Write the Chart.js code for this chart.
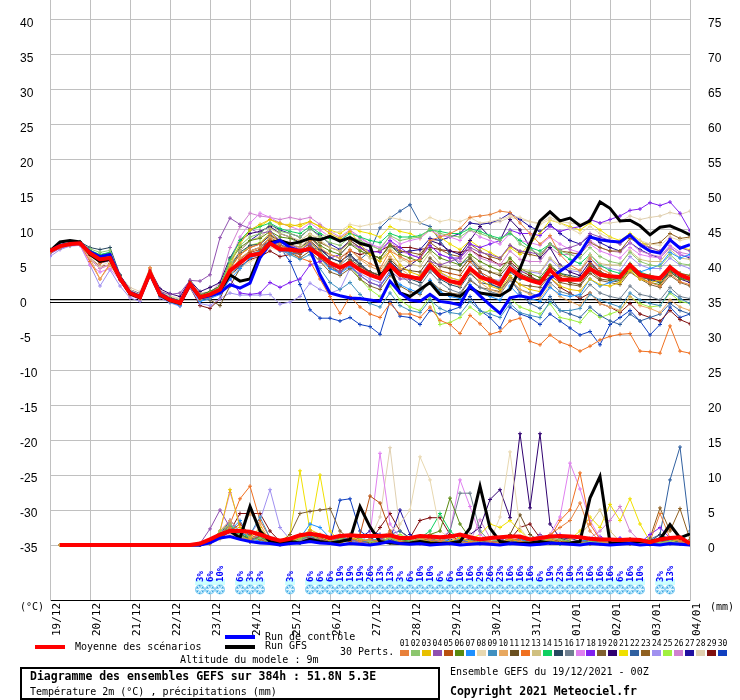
<!DOCTYPE html>
<html>
<head>
<meta charset="utf-8">
<script src="https://cdn.jsdelivr.net/npm/chart.js"></script>
<style>
  body { margin: 0; background: #fff; }
  #wrap { position: relative; width: 740px; height: 700px; font-family: "DejaVu Sans Mono", monospace; font-size: 10px; color: #000; overflow: hidden; }
  #wrap canvas { position: absolute; left: 0; top: 0; }
  .t { position: absolute; white-space: nowrap; line-height: 1; }
  .b { font-weight: bold; font-size: 11.5px; }
  .bar { position: absolute; width: 30px; height: 4px; }
  .num { position: absolute; top: 640px; font-size: 8px; line-height: 1; width: 11px; text-align: center; }
  .sw { position: absolute; top: 650px; width: 9px; height: 6px; }
  #box { position: absolute; left: 20px; top: 667px; width: 420px; height: 33px; border: 2px solid #000; box-sizing: border-box; }
</style>
</head>
<body>
<div id="wrap">
  <canvas id="gefs" width="740" height="700"></canvas>
  <div class="t" style="left:20px;top:602px;">(°C)</div>
  <div class="t" style="left:710px;top:602px;">(mm)</div>
  <div class="bar" style="left:35px;top:645px;background:#ff0000;"></div>
  <div class="t" style="left:75px;top:642px;">Moyenne des scénarios</div>
  <div class="bar" style="left:225px;top:635px;background:#0000ff;"></div>
  <div class="t" style="left:265px;top:632px;">Run de contrôle</div>
  <div class="bar" style="left:225px;top:645px;background:#000;"></div>
  <div class="t" style="left:265px;top:641px;">Run GFS</div>
  <div class="t" style="left:340px;top:647px;">30 Perts.</div>
  <div class="t" style="left:180px;top:655px;">Altitude du modele : 9m</div>
  <div id="strip"></div>
  <div id="box"></div>
  <div class="t b" style="left:30px;top:671px;">Diagramme des ensembles GEFS sur 384h : 51.8N 5.3E</div>
  <div class="t" style="left:30px;top:687px;">Température 2m (°C) , précipitations (mm)</div>
  <div class="t" style="left:450px;top:667px;">Ensemble GEFS du 19/12/2021 - 00Z</div>
  <div class="t b" style="left:450px;top:686px;">Copyright 2021 Meteociel.fr</div>
</div>
<script>
const dateLabels = ['19/12','20/12','21/12','22/12','23/12','24/12','25/12','26/12','27/12','28/12','29/12','30/12','31/12','01/01','02/01','03/01','04/01'];
const dayTicks = [0,24,48,72,96,120,144,168,192,216,240,264,288,312,336,360,384];
const tempTicks = [-35,-30,-25,-20,-15,-10,-5,0,5,10,15,20,25,30,35,40];
const precipTicks = [0,5,10,15,20,25,30,35,40,45,50,55,60,65,70,75];

const memberColors = ['#e8803a','#8cc66e','#e8c000','#9050b0','#b85010','#5a8a10','#1e90ff','#e8d8b0','#4090c0','#e8a860',
  '#6b5020','#f07020','#d0c080','#10d060','#284860','#708090','#e080f0','#8020f0','#806030','#300070',
  '#f0e000','#3060a0','#906020','#a090f0','#a0f040','#d080d0','#2010a0','#e0d0b0','#801010','#1040c0'];

// 6-hourly steps, 0h .. 384h
const hours = Array.from({ length: 65 }, (_, i) => i * 6);

// 2m temperature (°C)
const tempMean = [7.0,7.7,8.0,8.1, 6.7,5.8,6.0,3.1, 1.0,0.4,3.9,0.8, 0.0,-0.4,2.3,0.4, 0.8,1.5,4.2,5.3, 6.4,6.6,8.1,7.2, 7.2,7.0,7.3,6.4, 5.3,4.6,5.3,4.3, 3.6,3.1,5.0,3.6, 3.3,3.0,4.9,3.4, 2.7,2.4,4.5,3.3, 2.8,2.2,4.5,3.4, 2.8,2.4,4.3,2.9, 2.9,2.9,4.5,3.6, 3.4,3.3,5.0,3.6, 3.3,3.1,4.7,3.6, 3.0];
const tempCtrl = [7.0,7.8,8.0,8.1, 6.9,6.2,6.5,3.2, 1.1,0.5,3.9,0.9, 0.1,-0.3,2.4,0.3, 0.6,1.0,2.2,1.7, 2.4,6.0,8.0,8.5, 7.5,7.0,7.2,3.6, 1.0,0.6,0.3,0.2, 0.0,-0.2,2.7,1.0, 0.0,-0.2,0.8,-0.2, -0.4,-0.7,2.0,0.6, -0.7,-1.9,0.3,0.6, 0.3,0.8,3.1,4.1, 5.1,6.7,9.0,8.6, 8.4,8.3,9.3,7.9, 7.0,6.7,8.6,7.4, 7.9];
const tempGfs = [7.0,8.3,8.5,8.3, 6.5,5.5,5.8,3.0, 0.9,0.3,3.8,0.7, -0.1,-0.5,2.2,0.3, 0.7,1.3,3.6,2.7, 3.0,6.5,8.2,8.5, 8.0,8.3,8.8,8.6, 9.1,8.4,8.9,8.1, 7.7,3.6,4.5,1.0, 0.5,1.5,2.5,0.8, 0.8,0.5,1.7,1.0, 0.8,0.6,1.5,4.5, 8.0,11.3,12.6,11.3, 11.7,10.6,11.3,14.0, 13.1,11.3,11.4,10.6, 9.3,10.4,10.6,10.0, 9.3];
const tempPerts = [
  [6.9,7.6,7.9,8.0, 6.5,5.2,5.8,3.0, 0.8,0.2,4.2,0.6, -0.2,-0.6,2.4,0.1, 0.4,1.0,4.5,6.5, 7.5,8.0,9.5,8.2, 7.8,7.0,8.5,6.8, 5.5,5.0,7.2,6.0, 5.2,4.5,7.0,6.2, 5.5,5.8,8.5,9.0, 9.5,10.2,11.8,12.0, 12.2,12.7,12.5,11.0, 9.5,8.0,9.2,6.5, 5.0,4.2,6.0,4.5, 3.8,3.0,4.8,3.2, 2.5,2.0,3.8,2.6, 2.2],
  [7.1,7.8,8.0,8.2, 7.3,6.8,7.1,3.4, 1.2,0.6,4.0,1.0, 0.2,-0.2,2.5,0.6, 1.0,1.8,5.5,7.8, 9.0,9.5,10.8,9.8, 9.5,9.0,10.2,9.0, 8.2,7.8,9.0,8.5, 7.8,7.2,9.2,8.5, 8.8,9.0,10.2,9.5, 9.2,9.0,10.0,9.5, 9.0,8.5,9.8,8.0, 7.2,6.5,8.0,7.0, 6.5,6.0,7.5,6.2, 5.5,5.2,6.8,5.5, 5.0,4.8,6.5,5.2, 5.0],
  [6.8,7.5,7.9,8.0, 6.8,6.0,6.2,3.3, 1.0,0.3,4.0,0.8, 0.0,-0.4,2.3,0.2, 0.8,1.6,5.0,8.0, 10.0,10.8,11.5,11.0, 10.5,10.8,11.2,10.5, 9.5,8.8,9.8,8.0, 6.5,5.5,7.0,5.0, 4.0,3.5,5.2,4.0, 3.2,2.8,4.5,3.0, 2.0,1.5,3.5,2.2, 1.5,1.2,3.2,2.0, 1.5,1.3,3.0,2.2, 2.0,2.5,4.2,3.0, 2.5,2.8,4.5,3.5, 3.2],
  [6.6,7.4,7.8,7.9, 6.6,5.5,5.9,2.9, 0.9,0.4,3.7,1.2, 0.8,1.0,2.8,2.7, 3.6,8.9,11.7,10.8, 10.2,9.5,9.8,8.5, 8.0,7.2,8.0,6.5, 5.0,4.0,5.0,3.5, 2.5,2.0,4.2,3.0, 3.0,3.5,5.5,5.0, 5.5,6.0,7.5,6.8, 6.5,6.0,7.8,7.0, 6.8,6.5,8.0,7.2, 7.5,8.0,9.5,9.0, 8.5,8.0,9.2,8.0, 7.5,7.0,8.8,7.5, 7.0],
  [7.0,7.7,8.0,8.1, 6.4,5.4,5.7,3.0, 1.0,0.5,3.9,0.7, -0.1,-0.5,2.2,0.3, 0.5,1.2,3.8,5.5, 6.8,7.2,8.5,7.5, 7.0,6.5,7.8,6.0, 4.8,4.0,5.5,4.2, 3.5,3.0,5.0,3.8, 3.5,3.2,5.5,4.2, 3.8,3.5,5.5,4.0, 3.2,2.5,4.5,3.5, 3.0,2.5,4.8,3.5, 3.2,3.0,5.2,4.0, 3.5,3.2,5.0,3.8, 3.5,3.2,4.8,3.8, 3.5],
  [7.2,7.9,8.1,8.2, 7.0,6.3,6.6,3.3, 1.1,0.6,4.1,1.0, 0.3,-0.1,2.6,0.7, 1.2,2.0,5.5,7.5, 8.5,8.8,9.8,9.0, 8.8,8.2,9.0,7.8, 7.0,6.5,8.0,7.0, 6.5,6.0,7.8,6.5, 6.0,5.5,7.2,6.0, 5.5,5.0,6.5,5.5, 4.8,4.2,6.0,4.5, 3.8,3.2,5.0,3.8, 3.2,3.0,4.8,3.5, 3.0,2.8,4.5,3.2, 2.5,2.2,4.0,3.0, 2.8],
  [6.9,7.6,7.9,8.0, 6.8,6.1,6.4,3.1, 0.8,0.2,3.8,0.5, -0.3,-0.8,2.0,-0.2, 0.2,0.8,3.0,4.5, 6.0,6.5,8.0,7.0, 6.8,6.5,7.5,6.0, 4.5,3.8,4.8,3.5, 2.5,2.0,3.8,2.2, 1.5,1.0,2.8,1.2, 0.5,0.2,2.2,1.0, 0.5,0.0,2.0,0.5, 0.2,-0.2,1.8,0.8, 0.5,0.8,3.0,2.0, 2.5,3.0,5.0,4.0, 4.5,5.0,6.8,6.0, 6.5],
  [6.7,7.5,7.8,7.9, 6.2,4.8,5.5,3.2, 1.5,0.8,4.3,1.3, 0.5,0.0,2.7,0.8, 1.0,1.5,3.5,4.5, 5.5,6.2,7.5,7.0, 7.5,8.0,9.2,9.0, 9.5,9.8,10.8,10.5, 10.8,11.0,11.8,11.5, 11.2,11.0,11.8,11.2, 11.5,11.2,11.8,11.0, 11.2,11.5,12.0,11.8, 11.2,10.8,11.5,11.0, 10.2,9.5,10.5,9.5, 8.8,8.0,9.2,8.5, 8.0,7.8,9.0,8.5, 8.8],
  [6.8,7.6,7.9,8.0, 6.6,5.7,6.0,3.0, 0.9,0.3,3.8,0.6, -0.2,-0.6,2.1,0.0, 0.3,1.0,3.5,5.0, 6.5,7.0,8.5,7.2, 6.5,5.8,6.5,4.5, 2.5,1.5,2.5,0.8, -0.5,-1.0,1.0,-0.8, -1.5,-1.8,0.0,-1.2, -1.8,-2.0,-0.2,-1.5, -2.0,-2.5,-0.5,-1.8, -2.2,-2.5,-0.2,-1.5, -1.5,-1.2,0.8,0.0, -0.5,-1.0,1.0,0.0, -0.5,-0.8,1.2,0.2, -0.5],
  [7.0,7.7,8.0,8.1, 6.0,3.0,5.0,2.8, 0.7,0.2,4.5,0.8, 0.0,-0.5,2.4,0.3, 0.5,1.2,4.0,6.0, 7.0,7.5,9.0,8.2, 8.0,7.5,8.8,7.5, 6.5,6.0,7.2,5.8, 4.8,4.2,6.2,4.5, 3.5,3.0,5.0,3.5, 2.5,2.0,4.0,2.5, 1.5,1.0,3.0,1.5, 0.8,0.2,2.0,0.5, -0.2,-0.8,1.0,-0.5, -1.0,-1.5,0.5,-0.8, -1.2,-1.8,0.0,-1.0, -1.5],
  [7.1,7.8,8.1,8.2, 6.9,6.2,6.5,3.4, 1.2,0.7,4.0,1.1, 0.2,-0.2,2.4,0.5, 0.0,-0.8,2.0,4.5, 6.0,6.8,8.2,7.5, 7.2,6.8,7.8,6.5, 5.0,4.5,5.8,4.8, 4.0,3.5,5.8,4.5, 4.2,4.0,6.0,4.8, 4.5,4.2,6.0,4.5, 4.0,3.5,5.2,3.8, 3.2,2.8,4.5,3.2, 2.5,2.2,4.2,3.0, 2.8,2.5,4.5,3.2, 3.0,2.8,4.2,3.5, 3.0],
  [6.8,7.5,7.9,8.0, 5.5,3.0,5.2,3.0, 0.8,0.3,4.6,0.9, 0.0,-0.4,2.3,0.2, 0.5,1.2,4.0,5.8, 7.0,7.5,8.8,7.8, 7.2,6.0,5.5,3.0, 0.5,-1.9,0.5,-1.0, -2.0,-2.5,-0.5,-2.0, -2.0,-2.5,-1.0,-2.9, -3.5,-4.8,-2.2,-3.4, -4.9,-4.5,-3.0,-2.6, -5.9,-6.4,-5.0,-6.0, -6.5,-7.3,-6.6,-5.7, -5.2,-4.9,-4.8,-7.3, -7.4,-7.6,-3.7,-7.3, -7.6],
  [7.0,7.7,8.0,8.1, 6.7,5.9,6.1,3.2, 1.0,0.5,4.0,0.8, 0.1,-0.3,2.3,0.5, 1.0,1.8,5.0,7.0, 8.5,9.0,10.2,9.5, 9.0,8.5,9.5,8.5, 7.5,7.0,8.2,7.2, 6.0,5.5,7.5,6.0, 5.2,4.8,6.8,5.2, 4.5,4.2,6.2,4.8, 4.0,3.8,5.8,4.5, 4.2,4.0,6.0,4.8, 4.5,4.2,6.5,5.2, 5.0,5.0,7.0,5.8, 5.5,5.5,7.2,6.0, 5.8],
  [7.2,7.9,8.1,8.2, 7.1,6.5,6.8,3.3, 1.1,0.5,4.0,0.9, 0.2,-0.2,2.4,0.5, 1.0,1.9,5.8,8.5, 10.0,10.5,11.0,10.2, 9.8,9.5,10.5,9.5, 8.8,8.5,9.5,9.0, 8.5,8.2,9.5,9.0, 9.0,9.2,10.0,9.8, 9.5,9.5,10.2,9.8, 9.2,8.8,9.5,8.5, 7.5,7.0,8.0,6.8, 5.8,5.2,6.5,5.0, 4.2,3.8,5.2,4.0, 3.5,3.2,4.8,3.8, 3.5],
  [7.2,7.9,8.2,8.3, 7.5,7.2,7.5,3.6, 1.3,0.8,4.2,1.2, 0.4,0.0,2.6,0.8, 1.2,2.0,5.0,6.8, 7.8,8.0,9.2,8.5, 8.0,7.5,8.5,7.2, 6.0,5.5,6.5,5.2, 4.0,3.5,5.5,4.0, 3.0,2.5,4.5,3.0, 2.2,1.8,3.8,2.5, 2.2,1.8,4.0,3.0, 3.0,2.8,4.8,3.8, 3.5,3.2,5.0,4.0, 3.2,3.0,4.8,3.5, 2.8,2.5,4.2,3.2, 2.8],
  [6.9,7.6,7.9,8.0, 6.5,5.6,5.9,3.0, 0.9,0.4,3.9,0.7, -0.1,-0.5,2.2,0.2, 0.5,1.2,3.8,5.2, 6.5,7.0,8.5,7.8, 7.5,7.0,8.2,7.0, 5.5,5.0,6.2,5.0, 3.8,3.2,5.2,3.5, 2.5,2.0,4.0,2.5, 1.5,1.0,3.0,1.8, 1.2,0.8,2.8,1.5, 1.0,0.5,2.5,1.2, 0.8,0.5,2.2,1.0, 0.5,0.2,2.0,0.8, 0.5,0.0,1.8,0.5, 0.2],
  [6.6,7.4,7.8,7.9, 5.0,4.0,4.5,2.8, 0.6,0.1,3.7,0.5, -0.2,-0.6,2.1,0.1, 0.5,1.2,5.5,9.0, 11.0,12.4,11.8,11.0, 10.5,10.0,11.0,10.0, 9.0,8.5,9.8,8.8, 8.0,7.5,9.0,8.0, 8.5,8.8,10.0,9.2, 9.0,8.5,10.0,9.0, 8.5,8.0,9.5,8.5, 8.2,7.8,9.0,8.0, 7.2,6.8,8.0,7.0, 6.5,6.0,7.5,6.5, 6.2,6.0,7.5,6.5, 6.2],
  [6.8,7.5,7.9,8.0, 6.4,5.3,5.6,2.9, 0.7,0.2,3.8,0.6, -0.1,-0.6,2.2,0.2, 0.6,1.3,3.0,1.0, 0.8,1.0,2.5,1.8, 2.5,3.0,5.0,5.5, 6.0,6.5,8.0,7.5, 7.0,6.8,8.5,7.5, 6.5,6.0,7.8,6.5, 6.0,6.0,8.0,7.5, 8.0,8.5,10.0,9.5, 9.5,9.2,10.5,9.8, 10.2,10.5,11.5,11.0, 11.5,12.0,12.8,13.0, 13.9,13.5,14.0,12.4, 9.9],
  [7.0,7.7,8.0,8.1, 6.6,5.6,5.9,3.1, 1.0,0.4,3.9,0.8, 0.0,-0.4,2.3,0.4, 0.8,1.5,4.0,5.5, 6.5,6.8,8.0,7.2, 6.8,6.0,7.0,5.5, 4.0,3.5,4.5,3.0, 2.0,1.5,3.5,2.0, 1.2,0.8,2.8,1.5, 1.0,0.8,2.8,1.8, 1.5,1.2,3.2,2.2, 2.0,1.8,3.5,2.5, 2.2,2.0,3.8,2.8, 2.5,2.2,4.0,3.0, 2.2,1.8,3.5,2.5, 2.0],
  [7.1,7.8,8.1,8.2, 6.9,6.4,6.8,3.5, 1.5,0.9,4.3,1.6, 0.9,0.5,2.8,1.2, 1.8,2.5,6.0,8.5, 9.5,9.8,10.5,9.5, 9.0,8.2,9.0,7.5, 6.0,5.5,6.5,5.0, 4.0,3.5,5.5,4.2, 5.0,6.0,8.5,8.0, 7.0,6.5,8.5,10.5, 9.0,8.5,11.5,10.0, 7.5,6.0,7.5,5.0, 4.0,3.5,5.5,4.0, 3.5,3.0,5.0,3.5, 3.0,2.5,4.0,3.0, 2.5],
  [7.0,7.7,8.0,8.1, 6.8,6.0,6.3,3.2, 1.0,0.4,4.0,0.8, 0.0,-0.5,2.2,0.2, 0.8,1.8,5.5,8.5, 10.0,10.5,11.5,10.8, 10.8,10.5,11.2,10.5, 10.0,9.5,10.5,9.8, 9.5,9.0,10.5,9.8, 9.5,8.8,10.0,9.0, 8.0,7.2,8.5,7.5, 6.8,6.0,7.5,6.5, 8.0,9.5,11.4,11.0, 10.5,10.0,11.0,10.0, 9.0,8.5,9.5,8.5, 7.5,7.0,8.5,7.5, 7.2],
  [6.9,7.6,7.9,8.0, 6.7,5.8,6.1,3.1, 0.9,0.3,3.9,0.7, -0.1,-0.5,2.2,0.3, 0.6,1.3,4.2,5.8, 7.0,7.5,9.0,8.0, 7.2,6.5,7.5,6.0, 4.5,4.0,5.5,5.8, 7.0,10.3,11.7,12.7, 13.6,11.0,10.5,8.5, 6.5,5.0,6.0,4.0, 2.5,1.5,3.0,1.0, -0.5,-1.2,0.5,-1.5, -2.0,-2.5,-1.0,-2.2, -3.0,-3.5,-2.0,-3.0, -2.5,-2.0,-0.5,-1.5, -2.0],
  [7.0,7.7,8.0,8.1, 6.7,5.8,6.0,3.1, 1.0,0.4,3.9,0.8, 0.0,-0.4,2.3,0.4, 0.8,1.5,4.5,6.5, 7.5,8.0,9.2,8.5, 8.2,8.0,9.0,8.2, 7.5,7.0,8.5,7.5, 6.5,6.0,8.0,7.0, 6.8,6.5,8.2,7.2, 6.5,6.2,8.0,7.0, 6.2,5.8,7.8,6.8, 6.5,6.2,8.0,7.0, 6.8,6.5,8.2,7.5, 7.0,7.0,8.8,8.0, 8.0,8.2,9.5,8.8, 9.0],
  [6.2,7.2,7.7,7.8, 5.0,2.0,4.3,2.0, 0.3,-0.2,3.3,0.3, -0.4,-0.9,1.8,-0.5, -0.8,0.2,1.0,0.7, 0.7,0.7,0.8,-0.6, -0.3,0.5,2.4,1.5, 1.0,1.5,4.5,3.8, 3.0,2.5,4.8,3.5, 3.5,3.0,5.2,3.8, 3.2,2.8,4.8,3.5, 3.0,2.8,5.0,4.0, 4.0,3.8,5.8,4.5, 4.2,4.0,6.0,4.8, 4.5,4.2,6.2,5.0, 4.5,4.5,6.0,5.0, 4.5],
  [7.0,7.7,8.0,8.1, 6.8,6.0,6.3,3.2, 1.0,0.5,4.0,0.8, 0.0,-0.4,2.3,0.4, 0.8,1.6,4.8,6.5, 7.8,8.2,9.5,8.5, 8.0,7.5,8.2,6.8, 5.0,4.0,5.0,3.0, 1.5,0.5,2.0,0.0, -1.0,-1.5,0.5,-3.5, -3.2,-2.5,-1.0,-2.0, -1.5,-1.8,0.2,-1.0, -1.5,-2.0,-0.5,-2.5, -2.8,-3.2,-1.5,-2.5, -2.0,-1.5,0.5,-0.5, -1.0,-0.8,1.0,-0.2, -0.5],
  [6.8,7.5,7.9,8.0, 5.8,4.5,5.0,3.0, 0.8,0.3,3.8,0.7, 0.0,-0.4,2.3,0.3, 1.0,2.5,7.5,10.5, 12.4,12.0,11.8,11.5, 11.8,11.5,11.8,10.8, 9.8,9.0,10.0,9.0, 8.0,7.2,8.5,7.0, 6.5,6.0,7.8,6.5, 6.0,5.5,7.2,6.0, 5.5,5.0,7.0,5.8, 5.5,5.5,7.5,6.5, 6.5,6.8,8.5,7.5, 7.0,6.8,8.2,7.0, 6.5,6.2,7.8,6.8, 6.5],
  [7.0,7.7,8.0,8.1, 6.6,5.7,6.0,3.1, 1.0,0.4,3.9,0.8, 0.0,-0.5,2.2,0.3, 0.7,1.5,4.5,7.0, 8.5,9.5,10.8,10.0, 9.5,9.0,10.2,9.2, 8.0,7.2,8.5,7.5, 6.5,6.0,7.8,6.8, 7.0,7.2,8.8,8.5, 9.0,9.5,11.0,10.8, 11.0,11.5,12.4,11.5, 10.5,9.8,10.8,9.5, 8.5,8.0,9.2,8.2, 7.5,7.0,8.2,7.2, 6.5,6.0,7.5,6.5, 6.0],
  [6.9,7.6,7.9,8.0, 6.0,4.5,5.2,3.5, 1.8,1.2,4.6,1.5, 0.6,0.2,2.8,1.0, 1.2,1.8,4.0,5.5, 6.2,6.5,7.8,7.0, 6.5,6.0,7.0,5.5, 4.5,4.0,5.5,4.5, 4.0,3.8,6.0,5.5, 6.0,6.5,8.5,8.5, 9.0,9.5,11.0,10.8, 11.0,11.2,11.8,11.5, 11.2,11.0,11.8,11.2, 11.0,10.8,11.5,11.0, 11.0,11.2,12.0,11.5, 11.8,12.0,12.5,12.2, 12.7],
  [7.0,7.7,8.0,8.1, 6.0,4.8,5.0,3.3, 1.0,0.3,3.8,0.5, -0.3,-0.8,1.8,-0.8, -1.2,0.2,3.5,4.8, 5.8,6.2,7.0,6.2, 6.5,6.8,7.5,7.2, 6.5,6.0,7.0,6.5, 6.8,7.0,7.8,7.5, 7.5,7.2,7.5,7.2, 7.0,6.8,7.2,6.3, 5.8,5.0,5.5,4.2, 3.5,2.5,3.2,1.8, 1.0,0.2,1.0,-0.5, -1.0,-1.8,-0.5,-2.0, -2.5,-3.0,-1.5,-2.8, -3.4],
  [6.9,7.6,7.9,8.0, 6.8,6.0,6.3,3.1, 0.9,0.3,3.9,0.7, -0.1,-0.5,2.2,0.2, 0.5,1.2,4.0,5.8, 7.0,7.5,8.5,7.5, 5.5,2.2,-1.4,-2.6, -2.6,-3.0,-2.5,-3.5, -3.8,-4.9,-0.2,-2.3, -2.5,-3.5,-1.5,-2.0, -1.5,-1.0,0.5,-1.5, -2.5,-4.0,-1.0,-2.0, -2.5,-3.5,-2.0,-3.0, -4.0,-5.0,-4.5,-6.4, -3.5,-2.5,-1.5,-3.0, -5.0,-3.5,-1.0,-2.5, -2.0]
];

// 6-hourly precipitation (mm), no value at 0h
const precipMean = [null,0,0,0, 0,0,0,0, 0,0,0,0, 0,0,0,0.2, 0.8,1.5,2.0,2.0, 1.9,1.5,1.0,0.6, 0.9,1.4,1.6,1.4, 1.0,1.3,1.4,1.3, 1.3,1.3,1.4,1.0, 1.0,1.3,1.2,1.1, 1.2,1.5,1.1,0.8, 1.0,1.1,1.2,1.2, 0.8,1.0,1.2,1.3, 1.2,1.1,0.9,0.8, 0.8,0.7,0.8,0.7, 0.4,0.8,1.0,1.1, 0.2];
const precipCtrl = [null,0,0,0, 0,0,0,0, 0,0,0,0, 0,0,0,0, 0.3,1.0,1.2,0.8, 0.5,0.3,0.2,0.0, 0.2,0.3,0.5,0.3, 0.2,0.0,0.2,0.1, 0.0,0.2,0.5,0.2, 0.1,0.2,0.0,0.1, 0.2,0.0,0.1,0.2, 0.1,0.0,0.2,0.1, 0.0,0.1,0.3,0.2, 0.1,0.0,0.2,0.1, 0.0,0.1,0.2,0.0, 0.1,0.0,0.2,0.1, 0.0];
const precipGfs = [null,0,0,0, 0,0,0,0, 0,0,0,0, 0,0,0,0, 0.5,1.5,2.0,1.0, 5.5,2.0,0.5,0.3, 0.5,0.3,0.8,0.5, 0.3,0.5,0.8,5.5, 2.6,0.5,0.3,0.2, 0.3,0.5,0.3,0.2, 0.3,0.5,2.4,8.4, 2.4,0.5,0.3,0.2, 0.3,0.5,0.3,0.2, 0.3,0.5,6.7,9.8, 0.3,0.2,0.3,0.5, 0.5,0.8,2.9,1.0, 1.6];
const precipPerts = [
  [null,0,0,0, 0,0,0,0, 0,0,0,0, 0,0,0,0, 0.5,1.5,2.5,1.0, 0.8,1.8,0.5,0.2, 0.5,1.2,2.0,1.0, 0.3,1.5,1.0,0.5, 0.8,0.5,1.8,0.5, 0.3,1.0,0.8,0.5, 1.2,0.5,0.3,0.8, 0.5,0.3,1.0,0.5, 0.2,0.5,1.5,2.5, 3.5,6.0,2.0,0.5, 0.3,0.5,0.2,0.3, 0.5,4.5,1.0,0.5, 0.2],
  [null,0,0,0, 0,0,0,0, 0,0,0,0, 0,0,0,0, 0.3,2.0,3.0,1.5, 0.5,1.0,0.3,0.0, 0.2,0.8,1.5,0.5, 0.5,0.8,1.5,1.0, 0.5,0.3,1.0,0.3, 0.5,0.8,1.2,0.5, 0.3,0.5,0.2,0.5, 0.8,0.5,0.3,0.2, 0.5,0.3,1.0,0.8, 0.5,0.2,0.5,0.3, 0.2,0.5,0.8,0.2, 0.0,0.3,0.5,0.2, 0.0],
  [null,0,0,0, 0,0,0,0, 0,0,0,0, 0,0,0,0, 0.5,2.0,7.9,2.5, 1.0,2.5,0.5,0.2, 0.5,1.0,2.2,1.5, 0.5,0.3,1.0,0.8, 0.5,0.3,1.2,0.5, 0.2,0.8,0.5,0.3, 0.5,1.0,0.5,0.3, 0.2,0.3,0.8,0.5, 0.3,0.5,0.8,0.3, 0.5,0.3,0.2,0.5, 0.3,0.2,0.5,0.3, 0.2,0.3,0.5,0.8, 0.2],
  [null,0,0,0, 0,0,0,0, 0,0,0,0, 0,0,0,0.2, 2.3,5.0,2.5,1.0, 0.5,1.5,0.8,0.3, 0.2,0.5,1.0,0.8, 0.5,1.2,0.8,0.3, 0.5,0.8,1.5,0.5, 0.3,0.2,0.8,0.5, 0.5,0.3,1.0,0.5, 0.3,0.8,0.5,0.3, 0.5,1.5,0.8,0.3, 0.2,0.5,0.3,0.2, 0.5,0.3,0.2,0.5, 0.3,0.5,0.2,0.3, 0.2],
  [null,0,0,0, 0,0,0,0, 0,0,0,0, 0,0,0,0, 0.2,1.0,2.0,3.0, 1.5,0.8,0.3,0.2, 0.5,1.5,1.0,0.5, 0.8,1.0,0.5,1.5, 7.0,6.0,2.0,0.5, 0.3,0.5,1.0,0.5, 0.2,0.5,0.3,0.8, 0.5,0.3,0.5,1.0, 0.5,0.3,0.8,0.5, 0.3,0.5,0.2,0.5, 0.8,0.5,0.3,0.2, 0.5,0.8,2.5,1.0, 0.5],
  [null,0,0,0, 0,0,0,0, 0,0,0,0, 0,0,0,0, 0.3,1.2,2.5,1.5, 0.8,1.2,0.5,0.3, 0.5,0.8,1.5,1.0, 0.5,0.5,1.0,0.5, 0.3,0.8,1.5,0.8, 0.5,0.8,1.5,2.0, 6.7,3.0,1.0,0.5, 0.3,0.5,0.8,0.5, 0.3,0.2,0.5,0.8, 0.5,0.3,0.5,0.2, 0.3,0.5,0.2,0.3, 0.2,0.5,0.3,0.5, 0.3],
  [null,0,0,0, 0,0,0,0, 0,0,0,0, 0,0,0,0, 0.5,1.5,2.0,3.5, 1.0,0.5,0.3,0.2, 0.5,1.0,3.0,2.5, 1.0,0.5,0.8,0.5, 0.5,1.0,0.5,0.3, 0.5,0.3,0.8,1.0, 0.5,0.8,0.3,0.2, 0.5,0.3,0.2,0.8, 0.5,0.3,0.5,0.2, 0.3,0.5,0.8,0.3, 0.2,0.3,0.5,0.3, 0.2,0.3,0.8,0.5, 0.3],
  [null,0,0,0, 0,0,0,0, 0,0,0,0, 0,0,0,0, 0.2,0.8,1.5,1.0, 0.5,0.8,0.3,0.0, 0.3,0.5,1.0,0.5, 0.3,0.5,0.8,0.3, 0.5,1.0,2.0,3.0, 5.0,12.6,9.3,2.0, 1.0,0.5,1.5,0.8, 0.5,4.0,13.3,2.5, 0.5,0.3,0.8,0.5, 0.3,0.5,0.3,0.2, 0.5,0.3,0.2,0.3, 0.2,0.3,0.5,0.3, 0.2],
  [null,0,0,0, 0,0,0,0, 0,0,0,0, 0,0,0,0, 0.3,1.0,2.2,1.5, 1.5,4.0,1.0,0.3, 0.5,0.8,1.2,0.5, 0.3,0.8,0.5,0.3, 0.5,0.3,1.0,0.5, 0.3,0.5,0.8,0.3, 0.5,0.3,0.5,0.2, 0.3,0.5,0.8,0.3, 0.5,0.8,0.3,0.2, 0.5,0.3,0.5,0.8, 0.3,0.2,0.5,0.3, 0.5,0.3,0.2,0.5, 0.3],
  [null,0,0,0, 0,0,0,0, 0,0,0,0, 0,0,0,0, 0.5,2.0,3.5,2.0, 4.5,3.0,0.5,0.3, 0.5,1.0,1.5,0.8, 0.5,1.0,0.5,0.3, 0.5,0.8,0.3,0.5, 1.0,0.5,0.3,0.8, 0.5,1.0,0.5,0.3, 0.2,0.5,0.3,0.5, 0.3,0.5,1.0,0.5, 0.3,0.2,0.5,0.3, 0.5,0.3,0.2,0.5, 0.3,0.5,1.0,0.5, 0.3],
  [null,0,0,0, 0,0,0,0, 0,0,0,0, 0,0,0,0, 0.3,1.0,2.0,1.5, 0.5,0.8,0.5,0.2, 0.3,1.0,1.5,1.0, 0.5,0.8,1.5,0.8, 0.5,0.3,0.8,0.5, 0.3,0.8,0.5,0.3, 0.5,0.3,0.8,0.5, 0.3,0.5,1.5,4.3, 1.5,0.5,0.3,0.5, 0.3,0.5,0.8,0.3, 0.5,0.3,0.5,0.2, 0.3,0.5,0.3,0.2, 0.2],
  [null,0,0,0, 0,0,0,0, 0,0,0,0, 0,0,0,0, 0.5,1.5,3.0,6.6, 8.4,3.5,1.0,0.5, 0.3,0.8,1.5,0.8, 0.5,0.3,0.8,0.5, 0.3,0.5,1.0,0.5, 0.5,0.3,0.5,0.8, 0.3,0.5,0.2,0.3, 0.5,0.3,0.5,0.8, 0.5,0.3,1.0,3.5, 5.0,10.3,3.0,0.8, 0.5,0.3,0.5,0.2, 0.3,0.5,0.3,0.2, 0.2],
  [null,0,0,0, 0,0,0,0, 0,0,0,0, 0,0,0,0, 0.2,1.0,2.5,1.2, 0.8,1.5,0.5,0.2, 0.5,0.8,1.0,0.5, 0.3,0.5,0.8,0.5, 0.3,0.5,1.5,0.8, 0.5,0.3,0.8,0.5, 0.3,0.5,0.8,0.3, 0.5,0.8,0.3,0.5, 0.3,0.5,0.8,0.5, 0.8,1.5,3.0,5.0, 2.0,0.5,0.3,0.5, 0.3,0.2,0.5,0.3, 0.2],
  [null,0,0,0, 0,0,0,0, 0,0,0,0, 0,0,0,0, 0.3,1.5,2.8,1.8, 1.0,0.8,0.5,0.3, 0.5,0.3,1.0,0.8, 0.5,1.0,0.8,0.5, 0.8,0.5,1.5,0.8, 0.5,1.0,2.0,4.5, 2.0,0.8,0.5,0.3, 0.5,0.3,0.8,0.5, 0.3,0.5,0.3,0.2, 0.5,0.3,0.5,0.8, 0.3,0.5,0.2,0.3, 0.5,0.3,0.5,0.2, 0.3],
  [null,0,0,0, 0,0,0,0, 0,0,0,0, 0,0,0,0, 0.3,1.2,2.0,1.5, 0.5,1.0,0.3,0.2, 0.5,0.8,1.2,0.8, 0.5,0.3,1.0,0.5, 0.3,0.8,0.5,0.3, 0.5,0.3,0.8,1.0, 0.8,0.5,0.3,0.5, 0.3,0.5,0.3,0.8, 0.5,0.3,0.5,0.8, 1.0,0.5,0.3,0.5, 0.3,0.5,0.8,0.3, 0.5,1.5,0.8,0.3, 0.2],
  [null,0,0,0, 0,0,0,0, 0,0,0,0, 0,0,0,0, 0.2,1.0,2.0,1.2, 0.5,0.8,0.3,0.2, 0.3,0.5,1.0,0.5, 0.3,0.5,0.8,0.5, 0.5,0.3,0.8,0.5, 0.3,0.5,1.0,0.5, 2.0,7.4,7.4,2.0, 0.5,0.3,0.5,0.3, 0.2,0.5,0.3,0.5, 0.3,0.5,0.2,0.3, 0.5,0.3,0.5,0.2, 0.3,0.2,0.5,0.3, 0.2],
  [null,0,0,0, 0,0,0,0, 0,0,0,0, 0,0,0,0, 0.5,2.0,7.5,3.0, 1.0,1.5,0.5,0.3, 0.5,1.0,1.5,0.8, 0.5,0.8,1.0,0.5, 1.5,13.1,3.0,1.0, 0.5,0.3,0.8,1.0, 2.0,9.3,5.5,1.5, 0.5,0.3,0.5,0.8, 0.3,0.5,1.5,4.0, 11.7,8.0,3.5,1.0, 0.5,0.3,0.5,0.3, 0.5,0.3,0.2,0.5, 0.3],
  [null,0,0,0, 0,0,0,0, 0,0,0,0, 0,0,0,0, 0.3,1.0,1.8,1.2, 0.5,0.8,0.3,0.2, 0.3,0.5,0.8,0.5, 0.5,1.0,0.5,0.3, 0.5,0.3,0.8,0.5, 0.3,0.5,0.8,0.3, 0.5,0.3,0.8,0.5, 0.3,0.5,0.8,0.5, 0.3,0.5,0.8,1.5, 0.5,0.3,0.8,1.2, 0.5,1.0,0.5,0.3, 1.5,2.5,1.0,0.5, 0.3],
  [null,0,0,0, 0,0,0,0, 0,0,0,0, 0,0,0,0, 0.2,1.0,2.2,1.5, 0.8,1.0,0.5,0.3, 1.5,4.5,4.8,5.0, 5.2,2.0,0.8,0.5, 0.3,0.5,0.8,0.5, 0.3,0.5,0.3,0.8, 0.5,0.3,0.5,0.3, 0.5,0.8,0.3,0.5, 0.3,0.5,0.3,0.2, 0.5,0.3,0.5,0.3, 0.2,0.5,0.3,0.5, 0.3,0.5,0.8,0.3, 0.2],
  [null,0,0,0, 0,0,0,0, 0,0,0,0, 0,0,0,0, 0.5,1.5,2.5,1.5, 0.8,0.5,0.3,0.2, 0.5,0.8,1.0,0.5, 0.3,0.5,0.8,0.5, 0.3,0.5,0.8,0.5, 0.3,0.5,0.8,0.5, 0.5,0.8,1.5,2.5, 6.5,7.9,3.9,15.9, 5.3,15.9,3.0,1.0, 0.5,0.3,0.5,0.3, 0.5,0.3,0.2,0.5, 0.3,0.5,0.3,0.2, 0.2],
  [null,0,0,0, 0,0,0,0, 0,0,0,0, 0,0,0,0, 0.3,1.2,2.0,1.0, 0.5,0.8,0.3,0.5, 1.5,10.6,2.0,10.0, 2.0,0.5,0.8,0.3, 0.5,0.3,0.8,0.5, 0.3,0.5,0.8,0.5, 0.5,0.3,0.8,1.5, 3.0,2.5,3.5,2.0, 0.8,0.5,1.0,0.5, 0.8,2.0,4.0,2.5, 5.8,3.5,6.6,3.0, 0.5,0.3,0.5,0.3, 0.2],
  [null,0,0,0, 0,0,0,0, 0,0,0,0, 0,0,0,0, 0.3,1.0,2.5,1.5, 1.0,0.8,0.5,0.3, 0.5,1.0,1.5,0.5, 0.3,0.8,0.5,0.3, 0.5,0.8,1.5,2.0, 1.0,0.5,0.3,0.5, 0.3,0.5,0.8,0.5, 0.3,0.5,0.3,0.5, 0.2,0.5,0.3,0.2, 0.3,0.5,0.2,0.3, 0.5,0.3,0.2,0.5, 0.8,1.5,9.3,14.0, 2.0],
  [null,0,0,0, 0,0,0,0, 0,0,0,0, 0,0,0,0, 0.3,1.5,2.5,1.5, 0.8,1.0,0.5,0.3, 0.5,0.8,1.5,0.8, 0.5,0.5,1.0,0.5, 0.8,0.5,1.0,0.8, 0.5,0.3,0.8,0.5, 0.3,0.5,0.8,0.5, 0.3,0.5,0.3,0.8, 0.5,0.3,0.8,0.5, 0.3,0.5,0.3,0.5, 0.3,0.5,0.8,0.3, 1.0,5.3,2.0,5.2, 0.8],
  [null,0,0,0, 0,0,0,0, 0,0,0,0, 0,0,0,0, 0.5,1.5,3.0,2.0, 1.5,3.5,7.9,2.5, 0.8,0.5,1.0,0.5, 0.3,0.8,0.5,0.3, 0.5,0.3,0.8,0.5, 0.3,0.5,0.8,0.3, 0.5,0.3,0.5,0.8, 0.5,0.3,0.5,0.3, 0.5,0.8,0.3,0.5, 0.3,0.2,0.5,0.3, 0.5,0.3,0.2,0.3, 0.5,0.3,0.5,0.2, 0.2],
  [null,0,0,0, 0,0,0,0, 0,0,0,0, 0,0,0,0, 0.3,1.0,2.0,1.2, 0.5,0.8,0.3,0.2, 0.5,0.8,1.2,0.5, 0.5,0.3,0.8,0.5, 0.3,0.5,0.8,1.5, 0.8,0.5,0.3,0.5, 0.3,0.5,0.8,0.3, 0.5,0.3,0.8,0.5, 0.3,0.5,0.3,0.8, 0.5,0.3,0.5,0.2, 0.3,0.5,0.3,0.5, 0.3,0.5,0.8,0.3, 0.2],
  [null,0,0,0, 0,0,0,0, 0,0,0,0, 0,0,0,0, 0.5,2.0,3.5,1.8, 1.0,1.5,0.8,0.3, 0.5,1.0,2.0,1.0, 0.5,1.0,0.5,0.3, 0.8,0.5,1.0,0.5, 0.3,0.5,0.8,0.5, 0.5,0.8,0.5,3.6, 1.0,0.5,0.3,0.5, 0.3,0.5,0.8,0.5, 0.8,0.5,1.0,2.0, 3.5,5.5,2.0,0.5, 0.3,0.5,0.3,0.2, 0.2],
  [null,0,0,0, 0,0,0,0, 0,0,0,0, 0,0,0,0, 0.3,1.2,2.5,1.5, 0.8,1.0,0.5,0.3, 0.5,0.8,1.0,0.5, 0.3,0.8,0.5,1.0, 2.0,1.5,0.8,5.0, 1.5,0.5,0.3,0.5, 0.3,0.5,0.8,0.5, 0.3,0.5,0.8,0.5, 0.5,0.3,0.8,0.5, 0.3,0.5,0.3,0.5, 0.8,0.5,0.3,0.5, 0.3,1.0,0.5,0.3, 0.2],
  [null,0,0,0, 0,0,0,0, 0,0,0,0, 0,0,0,0, 0.2,0.8,1.5,1.0, 0.5,0.8,0.3,0.2, 0.3,0.5,0.8,0.5, 0.3,0.5,0.3,0.5, 0.8,4.0,13.9,2.0, 0.5,0.3,0.8,0.5, 0.3,0.5,0.3,0.5, 0.3,0.5,0.8,0.3, 0.5,0.3,0.5,0.3, 0.5,0.3,0.5,0.8, 0.3,0.5,0.3,0.2, 0.5,0.3,0.5,0.2, 0.2],
  [null,0,0,0, 0,0,0,0, 0,0,0,0, 0,0,0,0, 0.3,1.0,2.0,4.5, 4.5,4.5,2.0,0.5, 0.5,0.8,1.0,0.5, 0.3,0.5,0.8,0.5, 0.5,2.5,4.5,2.0, 1.0,3.5,3.9,3.9, 1.5,0.5,0.8,0.5, 0.3,0.5,0.8,2.5, 3.0,1.0,0.5,0.3, 0.5,0.3,0.5,0.3, 0.5,0.3,0.5,0.2, 0.3,0.5,0.3,0.5, 0.2],
  [null,0,0,0, 0,0,0,0, 0,0,0,0, 0,0,0,0, 0.3,1.5,3.5,2.0, 1.0,0.8,0.5,0.3, 0.5,1.0,1.5,0.8, 0.5,6.4,6.6,2.0, 1.0,0.5,0.3,0.8, 0.5,0.3,0.5,0.3, 0.5,0.3,0.8,0.5, 0.3,0.5,0.3,0.5, 0.5,0.3,0.8,0.5, 0.3,0.5,0.3,0.2, 0.5,0.3,0.2,0.5, 0.3,0.5,0.3,0.2, 0.2]
];

// snow probability (% of members) per 6h step
const snowHours = [90,96,102,114,120,126,144,156,162,168,174,180,186,192,198,204,210,216,222,228,234,240,246,252,258,264,270,276,282,288,294,300,306,312,318,324,330,336,342,348,354,366,372];
const snowPct = [3,6,10,6,3,3,3,6,6,6,19,19,19,26,13,13,3,6,10,10,6,6,10,16,29,26,23,16,16,16,6,19,23,10,13,16,16,16,6,16,10,3,13];

// small snowflake icon used as point style
function makeFlake() {
  const c = document.createElement('canvas');
  c.width = 10; c.height = 16;
  const g = c.getContext('2d');
  g.fillStyle = '#ccffff';
  g.fillRect(0, 0, 10, 6);
  g.fillStyle = '#86cff2';
  g.beginPath(); g.arc(5, 10.5, 5, 0, Math.PI * 2); g.fill();
  g.strokeStyle = '#e8f8ff';
  g.lineWidth = 1;
  for (let a = 0; a < 3; a++) {
    const ang = a * Math.PI / 3;
    g.beginPath();
    g.moveTo(5 - Math.cos(ang) * 4, 10.5 - Math.sin(ang) * 4);
    g.lineTo(5 + Math.cos(ang) * 4, 10.5 + Math.sin(ang) * 4);
    g.stroke();
  }
  g.fillStyle = '#3d9ee0';
  [[2, 8], [7, 8], [2, 12], [7, 12], [4, 6], [4, 14]].forEach(([px, py]) => g.fillRect(px, py, 1, 1));
  return c;
}
const flake = makeFlake();

const datasets = [
  { label: 'Moyenne', data: tempMean, yAxisID: 'y', borderColor: '#ff0000', borderWidth: 4, pointRadius: 0, order: 0 },
  { label: 'Contrôle', data: tempCtrl, yAxisID: 'y', borderColor: '#0000ff', borderWidth: 3, pointRadius: 0, order: 1 },
  { label: 'GFS', data: tempGfs, yAxisID: 'y', borderColor: '#000000', borderWidth: 3, pointRadius: 0, order: 2 },
  { label: 'Moyenne mm', data: precipMean, yAxisID: 'y2', borderColor: '#ff0000', borderWidth: 4, pointRadius: 0, order: 0 },
  { label: 'Contrôle mm', data: precipCtrl, yAxisID: 'y2', borderColor: '#0000ff', borderWidth: 3, pointRadius: 0, order: 1 },
  { label: 'GFS mm', data: precipGfs, yAxisID: 'y2', borderColor: '#000000', borderWidth: 3, pointRadius: 0, order: 2 }
];
tempPerts.forEach((d, k) => {
  datasets.push({ label: 'P' + (k + 1), data: d, yAxisID: 'y', borderColor: memberColors[k], borderWidth: 1,
    pointStyle: 'cross', pointRadius: 2, pointBorderWidth: 1, pointBorderColor: memberColors[k], order: 3 });
});
precipPerts.forEach((d, k) => {
  datasets.push({ label: 'P' + (k + 1) + ' mm', data: d, yAxisID: 'y2', borderColor: memberColors[k], borderWidth: 1,
    pointStyle: 'cross', pointRadius: 2, pointBorderWidth: 1, pointBorderColor: memberColors[k], order: 3 });
});
const snowIndex = datasets.length;
datasets.push({ label: 'Neige', data: snowHours.map(h => ({ x: h, y: -41 })), yAxisID: 'y', showLine: false,
  pointStyle: flake, pointRadius: 5, order: 4 });

// double black line at 0 °C
const zeroLine = {
  id: 'zeroLine',
  beforeDatasetsDraw(chart) {
    const { ctx, chartArea, scales } = chart;
    const y0 = Math.round(scales.y.getPixelForValue(0));
    ctx.save();
    ctx.strokeStyle = '#000';
    ctx.lineWidth = 1;
    [y0 - 0.5, y0 + 2.5].forEach(yy => {
      ctx.beginPath();
      ctx.moveTo(chartArea.left, yy);
      ctx.lineTo(chartArea.right, yy);
      ctx.stroke();
    });
    ctx.restore();
  }
};

// percent labels above the snowflakes
const snowLabels = {
  id: 'snowLabels',
  afterDatasetsDraw(chart) {
    const { ctx } = chart;
    const meta = chart.getDatasetMeta(snowIndex);
    ctx.save();
    ctx.font = 'bold 9px "DejaVu Sans Mono"';
    ctx.fillStyle = '#0000ff';
    ctx.textAlign = 'left';
    ctx.textBaseline = 'middle';
    meta.data.forEach((pt, k) => {
      ctx.save();
      ctx.translate(Math.round(pt.x) + 0.5, 582);
      ctx.rotate(-Math.PI / 2);
      ctx.fillText(snowPct[k] + '%', 0, 0);
      ctx.restore();
    });
    ctx.restore();
  }
};

// vertical date labels under the axis
const dateAxis = {
  id: 'dateAxis',
  afterDraw(chart) {
    const { ctx, scales, chartArea } = chart;
    ctx.save();
    ctx.font = '11px "DejaVu Sans Mono"';
    ctx.fillStyle = '#000';
    ctx.textAlign = 'right';
    ctx.textBaseline = 'middle';
    dayTicks.forEach((h, k) => {
      const x = scales.x.getPixelForValue(h);
      ctx.save();
      ctx.translate(x + 7, chartArea.bottom + 3);
      ctx.rotate(-Math.PI / 2);
      ctx.fillText(dateLabels[k], 0, 0);
      ctx.restore();
    });
    ctx.restore();
  }
};

// keep the plot area flush with the top edge of the canvas
function noPad(s) {
  s.paddingTop = 0;
  s.paddingBottom = 0;
}

Chart.defaults.font.family = '"Liberation Sans", sans-serif';

new Chart(document.getElementById('gefs'), {
  type: 'line',
  data: { labels: hours, datasets: datasets },
  options: {
    responsive: false,
    animation: false,
    events: [],
    layout: { autoPadding: false, padding: { left: 20, right: 0, top: 0, bottom: 0 } },
    elements: { line: { tension: 0 } },
    plugins: { legend: { display: false }, tooltip: { enabled: false } },
    scales: {
      x: {
        type: 'linear', min: 0, max: 384,
        afterBuildTicks: (s) => { s.ticks = dayTicks.map(v => ({ value: v })); },
        afterFit: (s) => { s.height = 100; s.paddingLeft = 0; s.paddingRight = 0; },
        ticks: { display: false },
        grid: { color: '#c0c0c0', drawTicks: false },
        border: { color: '#000', width: 1 }
      },
      y: {
        position: 'left', min: -300 / 7, max: 300 / 7,
        afterBuildTicks: (s) => { s.ticks = tempTicks.map(v => ({ value: v })); },
        afterFit: (s) => { s.width = 30; noPad(s); },
        ticks: { color: '#000', font: { size: 12 }, crossAlign: 'far', labelOffset: 4, padding: 0 },
        grid: { color: '#c0c0c0', drawTicks: false },
        border: { color: '#c0c0c0' }
      },
      y2: {
        position: 'right', min: -300 / 7 + 35, max: 300 / 7 + 35,
        afterBuildTicks: (s) => { s.ticks = precipTicks.map(v => ({ value: v })); },
        afterFit: (s) => { s.width = 50; noPad(s); },
        ticks: { color: '#000', font: { size: 12 }, labelOffset: 4, padding: 18 },
        grid: { display: false, drawTicks: false },
        border: { color: '#c0c0c0' }
      }
    }
  },
  plugins: [zeroLine, snowLabels, dateAxis]
});

// member colour strip
const strip = document.getElementById('strip');
memberColors.forEach((c, k) => {
  const left = 400 + k * 10.97;
  const num = document.createElement('div');
  num.className = 'num';
  num.style.left = (left - 1) + 'px';
  num.textContent = String(k + 1).padStart(2, '0');
  strip.appendChild(num);
  const sw = document.createElement('div');
  sw.className = 'sw';
  sw.style.left = left + 'px';
  sw.style.background = c;
  strip.appendChild(sw);
});
</script>
</body>
</html>
